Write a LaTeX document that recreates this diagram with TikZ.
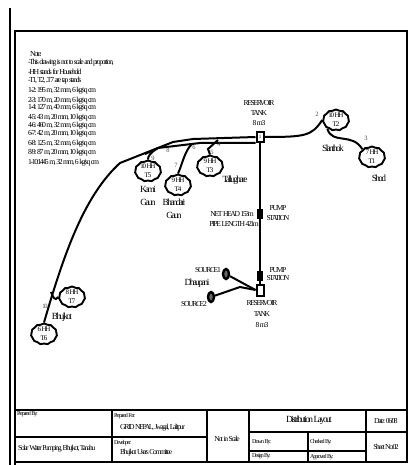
\documentclass[tikz,border=0pt]{standalone}
\usepackage{fontspec}
\setmainfont[LetterSpace=-18]{Liberation Serif}
\usetikzlibrary{shapes.symbols}
\usetikzlibrary{shapes.geometric}
\tikzset{
	lbl/.style={font=\fontsize{7.6}{8}\selectfont,black},
	tiny lbl/.style={font=\fontsize{6}{7}\selectfont,black},
	place/.style={font=\fontsize{9.4}{10}\selectfont,black},
	num/.style={font=\fontsize{6.5}{7}\selectfont,black!70},
	note/.style={font=\fontsize{7.7}{8}\selectfont,black,anchor=west},
	tap/.style={cloud,cloud puffs=11,cloud puff arc=80,aspect=1.15,draw,line width=1.9pt,minimum width=26pt,minimum height=21pt,align=center,font=\fontsize{7}{8}\selectfont},
	pipe/.style={line width=2pt,black},
	rule/.style={line width=1.6pt,black},
	pump/.style={fill=black,minimum width=6pt,minimum height=10pt},
	source/.style={ellipse,draw,line width=2.4pt,minimum width=6pt,minimum height=10pt,fill=black!60}
}
\begin{document}
\begin{tikzpicture}[x=1pt,y=-1pt]
		\tikzstyle{every node}+=[inner sep=0pt]
		\useasboundingbox (0,0) rectangle (408,465);
		% frame
		\draw [line width=2pt] (10,8) -- (10,465);
		\draw [line width=2pt] (14.5,465) -- (14.5,31) -- (407,31) -- (407,462) -- (14.5,462);
		% title block
		\draw [rule] (14.5,410) -- (407,410);
		\draw [rule] (14.5,437) -- (207,437);
		\draw [rule] (112,410) -- (112,462);
		\draw [rule] (207,410) -- (207,462);
		\draw [rule] (249,410) -- (249,462);
		\draw [rule] (366,410) -- (366,462);
		\draw [rule] (249,432) -- (407,432);
		\draw [rule] (249,451) -- (366,451);
		\draw [rule] (308,432) -- (308,462);
		\node [tiny lbl,anchor=west] (prepby) at (17,414) {Prepared By:};
		\node [tiny lbl,anchor=west] (prepfor) at (114,416) {Prepared For:};
		\node [lbl,anchor=west] (grid) at (120,428) {GRID NEPAL, Jwagal, Lalitpur};
		\node [lbl,anchor=west] (project) at (18,449) {Solar Water Pumping, Bhujkot, Tanahu};
		\node [tiny lbl,anchor=west] (devel) at (114,443) {Developer:};
		\node [lbl,anchor=west] (users) at (120,453) {Bhujkot Users Committee};
		\node [lbl] (scale) at (227,439) {Not in Scale};
		\node [place] (layout) at (309,420) {Distribution Layout};
		\node [lbl] (date) at (386,421) {Date: 06/08};
		\node [tiny lbl,anchor=west] (drawn) at (252,442) {Drawn By:};
		\node [tiny lbl,anchor=west] (checked) at (310,442) {Checked By:};
		\node [tiny lbl,anchor=west] (design) at (252,456) {Design By:};
		\node [tiny lbl,anchor=west] (approved) at (310,457) {Approved By:};
		\node [lbl] (sheet) at (386,447) {Sheet No:02};
		% notes
		\node [note] (n0) at (30,54) {Note:};
		\node [note] (n1) at (28,63) {-This drawing is not to scale and proportion,};
		\node [note] (n2) at (28,72) {-HH stands for Household};
		\node [note] (n3) at (28,81) {-T1, T2, ..T7 are tap stands};
		\node [note] (n4) at (28,91) {1-2: 195 m, 32 mm, 6 kg/sq cm};
		\node [note] (n5) at (28,101) {2-3: 170 m, 20 mm, 6 kg/sq cm};
		\node [note] (n6) at (28,108) {1-4: 127 m, 40 mm, 6 kg/sq cm};
		\node [note] (n7) at (28,118) {4-5: 43 m, 20 mm, 10 kg/sq cm};
		\node [note] (n8) at (28,126) {4-6: 460 m, 32 mm, 6 kg/sq cm};
		\node [note] (n9) at (28,134) {6-7: 42 m, 20 mm, 10 kg/sq cm};
		\node [note] (n10) at (28,144) {6-8: 125 m, 32 mm, 6 kg/sq cm};
		\node [note] (n11) at (28,153) {8-9: 87 m, 20 mm, 10 kg/sq cm};
		\node [note] (n12) at (28,163) {1-10:1445 m, 32 mm, 6 kg/sq cm};
		% tanks and pumps
		\node [draw,line width=2pt,fill=white,minimum width=7pt,minimum height=10pt,font=\fontsize{5}{6}\selectfont] (tanktop) at (260,137) {1};
		\node [draw,line width=2pt,fill=white,minimum width=7pt,minimum height=11pt] (tanklow) at (260,290) {};
		\node [pump] (pump1) at (260,214) {};
		\node [pump] (pump2) at (260,276) {};
		% tap stands
		\node [tap] (t2) at (336,120) {10 HH\\[1pt]T2};
		\node [tap] (t1) at (372,157) {7 HH\\[1pt]T1};
		\node [tap] (t3) at (210,166) {9 HH\\[1pt]T3};
		\node [tap] (t4) at (178,185) {9 HH\\[1pt]T4};
		\node [tap] (t5) at (148,171) {10 HH\\[1pt]T5};
		\node [tap] (t7) at (72,297) {8 HH\\[1pt]T7};
		\node [tap] (t6) at (44,334) {6 HH\\[1pt]T6};
		\node [source] (src1) at (226,274) {};
		\node [source] (src2) at (211,297) {};
		% pipes
		\coordinate (j4) at (218,140);
		\coordinate (j6) at (192,144);
		\coordinate (j8) at (158,148);
		\coordinate (j10) at (51,292);
		\coordinate (bend) at (240,287);
		\draw [pipe] (tanktop.south) -- (pump1) -- (pump2) -- (tanklow.north);
		\draw [pipe] (tanktop.east) .. controls (305,137) and (312,136) .. (t2.west);
		\draw [pipe] (t2.225) .. controls (332,145) and (352,132) .. (t1.north west);
		\draw [pipe] (tanktop.west) -- (193,139) -- (173,142) -- (120,163) .. controls (85,195) and (65,250) .. (t6.north);
		\draw [pipe] (tanktop.south west) -- (200,143) -- (j8) -- (145,154);
		\draw [pipe] (j4) -- (208,149) -- (t3.north);
		\draw [pipe] (j6) .. controls (185,150) and (182,165) .. (t4.north);
		\draw [pipe] (j8) .. controls (150,153) and (148,156) .. (t5.north);
		\draw [pipe] (j10) .. controls (53,297) and (55,302) .. (t7.west);
		\draw [pipe] (src1) -- (tanklow.west);
		\draw [pipe] (src2) -- (bend) -- (tanklow.west);
		% pipe numbers
		\node [num] (l2) at (317,114) {2};
		\node [num] (l3) at (366,138) {3};
		\node [num] (l4) at (219,144) {4};
		\node [num] (l5) at (212,152) {5};
		\node [num] (l6) at (194,147) {6};
		\node [num] (l7) at (176,165) {7};
		\node [num] (l8) at (168,150) {8};
		\node [num] (l9) at (153,158) {9};
		\node [num] (l10) at (45,306) {10};
		% labels
		\node [lbl,align=center] (restop) at (259,113) {RESERVOIR\\[2pt]TANK\\[2pt]8 m3};
		\node [lbl,align=center] (reslow) at (262,314) {RESERVOIR\\[3pt]TANK\\[3pt]8 m3};
		\node [lbl,align=center] (st1) at (278,213) {PUMP\\[2pt]STATION};
		\node [lbl,align=center] (st2) at (278,274) {PUMP\\STATION};
		\node [lbl,anchor=east] (head) at (254,214) {NET HEAD 153m};
		\node [lbl,anchor=east] (length) at (259,224) {PIPE LENGTH 421m};
		\node [lbl,anchor=east] (s1) at (221,270) {SOURCE1};
		\node [lbl,anchor=east] (s2) at (207,304) {SOURCE2};
		\node [place] (dhau) at (197,283) {Dhaupani};
		\node [place] (bhuj) at (62,317) {Bhujkot};
		\node [place,align=center] (kami) at (148,196) {Kami\\[3pt]Gaun};
		\node [place,align=center] (bhan) at (174,209) {Bhandari\\[3pt]Gaun};
		\node [place] (tall) at (235,180) {Tallughare};
		\node [place] (slan) at (333,148) {Slanthok};
		\node [place] (shod) at (379,178) {Shod};
	\end{tikzpicture}
\end{document}
